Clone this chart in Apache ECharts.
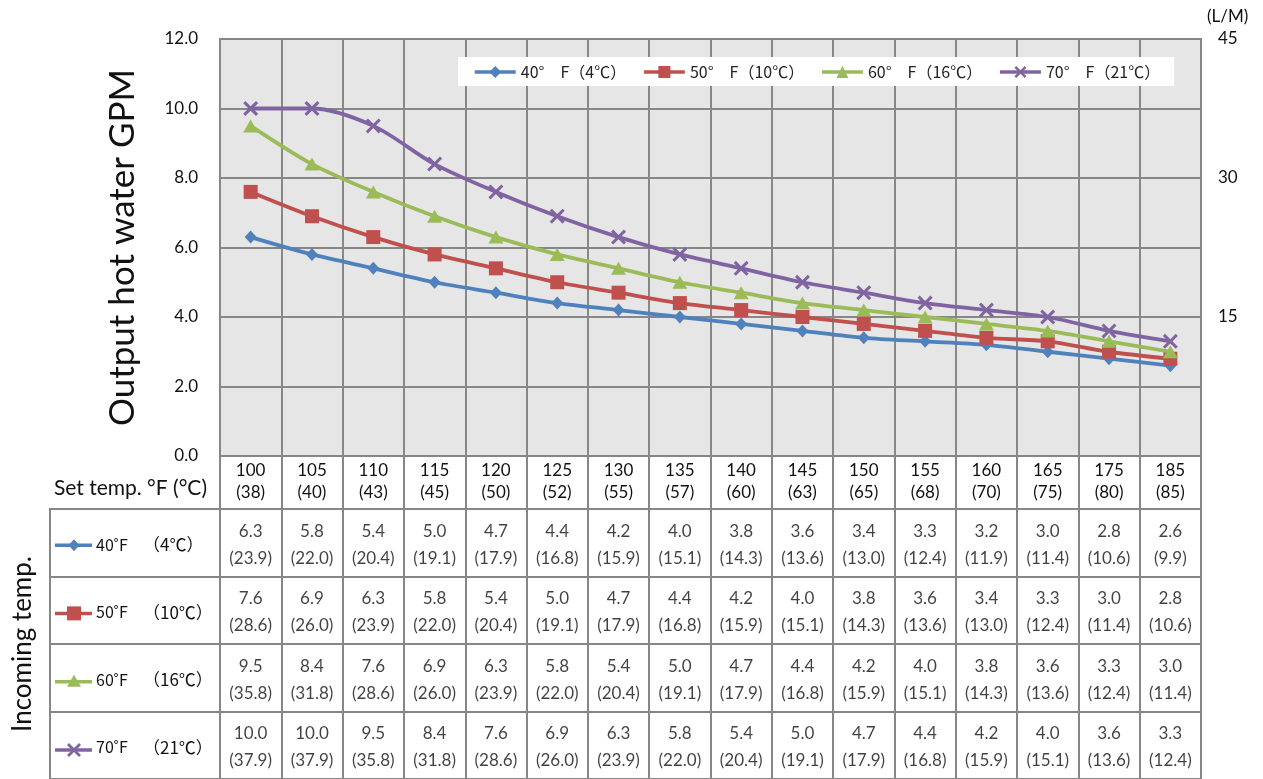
<!DOCTYPE html>
<html>
<head>
<meta charset="utf-8">
<script src="https://cdn.jsdelivr.net/npm/echarts@6/dist/echarts.min.js"></script>
<style>
  html, body { margin: 0; padding: 0; background: #fff; }
  #chart { width: 1263px; height: 779px; }
</style>
</head>
<body>
<div id="chart"></div>
<script>
// set temperatures (°F / °C)
var setTempF = ['100', '105', '110', '115', '120', '125', '130', '135', '140', '145', '150', '155', '160', '165', '175', '185'];
var setTempC = ['38', '40', '43', '45', '50', '52', '55', '57', '60', '63', '65', '68', '70', '75', '80', '85'];

// incoming temperatures
var seriesNames = ['40°　F（4℃）', '50°　F（10℃）', '60°　F（16℃）', '70°　F（21℃）'];
var rowF = ['40˚F', '50˚F', '60˚F', '70˚F'];
var rowC = ['（4℃）', '（10℃）', '（16℃）', '（21℃）'];

// output GPM
var gpm40 = [6.3, 5.8, 5.4, 5.0, 4.7, 4.4, 4.2, 4.0, 3.8, 3.6, 3.4, 3.3, 3.2, 3.0, 2.8, 2.6];
var gpm50 = [7.6, 6.9, 6.3, 5.8, 5.4, 5.0, 4.7, 4.4, 4.2, 4.0, 3.8, 3.6, 3.4, 3.3, 3.0, 2.8];
var gpm60 = [9.5, 8.4, 7.6, 6.9, 6.3, 5.8, 5.4, 5.0, 4.7, 4.4, 4.2, 4.0, 3.8, 3.6, 3.3, 3.0];
var gpm70 = [10.0, 10.0, 9.5, 8.4, 7.6, 6.9, 6.3, 5.8, 5.4, 5.0, 4.7, 4.4, 4.2, 4.0, 3.6, 3.3];

// output L/M
var lpm40 = [23.9, 22.0, 20.4, 19.1, 17.9, 16.8, 15.9, 15.1, 14.3, 13.6, 13.0, 12.4, 11.9, 11.4, 10.6, 9.9];
var lpm50 = [28.6, 26.0, 23.9, 22.0, 20.4, 19.1, 17.9, 16.8, 15.9, 15.1, 14.3, 13.6, 13.0, 12.4, 11.4, 10.6];
var lpm60 = [35.8, 31.8, 28.6, 26.0, 23.9, 22.0, 20.4, 19.1, 17.9, 16.8, 15.9, 15.1, 14.3, 13.6, 12.4, 11.4];
var lpm70 = [37.9, 37.9, 35.8, 31.8, 28.6, 26.0, 23.9, 22.0, 20.4, 19.1, 17.9, 16.8, 15.9, 15.1, 13.6, 12.4];

var gpmRows = [gpm40, gpm50, gpm60, gpm70];
var lpmRows = [lpm40, lpm50, lpm60, lpm70];

var colors = ['#4F81BD', '#C0504D', '#9BBB59', '#8064A2'];
var crossPath = 'path://M0,2L2,0L7,5L12,0L14,2L9,7L14,12L12,14L7,9L2,14L0,12L5,7Z';
var symbols = ['diamond', 'rect', 'triangle', crossPath];
var symbolSizes = [[12, 13], 14, [15, 13], 15];

var gridColor = '#878787';
var fontMain = 'Lato, "Noto Sans", sans-serif';
var fontCjk = '"Noto Sans CJK JP", sans-serif';

// table layout
var tLeft = 220, tWidth = 981, headTop = 456, bodyTop = 509, bodyH = 273, rowHeadLeft = 50;
var rowH = bodyH / 4;

var chart = echarts.init(document.getElementById('chart'));

// scatter points carrying the table cells
var cellData = [];
gpmRows.forEach(function (row, r) {
    row.forEach(function (v, i) {
        cellData.push([i, r, v, lpmRows[r][i]]);
    });
});

// little legend-like markers in the row headers
function rowY(r) { return bodyTop + rowH * (r + 0.5) + 2; }
var markers = [];
for (var r = 0; r < 4; r++) {
    markers.push({
        type: 'line',
        shape: { x1: 55, y1: rowY(r), x2: 92, y2: rowY(r) },
        style: { stroke: colors[r], lineWidth: 3.5 },
        z: 20
    });
}
markers.push({ type: 'polygon', shape: { points: [[74, -6], [79.5, 0], [74, 6], [68.5, 0]] }, y: rowY(0), style: { fill: colors[0] }, z: 21 });
markers.push({ type: 'rect', shape: { x: 67, y: -7, width: 14, height: 14 }, y: rowY(1), style: { fill: colors[1] }, z: 21 });
markers.push({ type: 'polygon', shape: { points: [[74, -7], [81, 5], [67, 5]] }, y: rowY(2), style: { fill: colors[2] }, z: 21 });
markers.push({
    type: 'polygon',
    shape: { points: [[67, -5], [69, -7], [74, -2], [79, -7], [81, -5], [76, 0], [81, 5], [79, 7], [74, 2], [69, 7], [67, 5], [72, 0]] },
    y: rowY(3), style: { fill: colors[3] }, z: 21
});
// header of the set-temperature row
markers.push({
    type: 'text',
    x: tLeft - 13,
    y: (headTop + bodyTop) / 2 + 6,
    style: { text: 'Set temp. °F (°C)', font: '21px ' + fontMain, fill: '#111', align: 'right', verticalAlign: 'middle' },
    z: 20
});

var lineSeries = seriesNames.map(function (name, k) {
    return {
        name: name,
        type: 'line',
        xAxisIndex: 0,
        yAxisIndex: 0,
        data: gpmRows[k],
        smooth: 0.3,
        symbol: symbols[k],
        symbolSize: symbolSizes[k],
        showAllSymbol: true,
        lineStyle: { color: colors[k], width: 3.8 },
        itemStyle: { color: colors[k] },
        emphasis: { disabled: true },
        z: 3 + k
    };
});

var option = {
    animation: false,
    color: colors,
    textStyle: { fontFamily: fontMain },
    legend: {
        data: seriesNames,
        left: 458,
        top: 57,
        padding: [7, 14, 6, 15],
        backgroundColor: '#fff',
        itemWidth: 41,
        itemHeight: 15,
        itemGap: 16,
        lineStyle: { width: 3.5 },
        textStyle: { fontFamily: fontCjk, fontSize: 16, color: '#222' }
    },
    grid: [
        { left: tLeft, top: 39, width: tWidth, height: 417, show: true, backgroundColor: '#E6E6E6', borderColor: gridColor, borderWidth: 2 },
        { left: tLeft, top: headTop, width: tWidth, height: bodyTop - headTop, show: true, backgroundColor: '#fff', borderColor: gridColor, borderWidth: 2 },
        { left: tLeft, top: bodyTop, width: tWidth, height: bodyH, show: true, backgroundColor: '#fff', borderColor: gridColor, borderWidth: 2 },
        { left: rowHeadLeft, top: bodyTop, width: tLeft - rowHeadLeft, height: bodyH, show: true, backgroundColor: '#fff', borderColor: gridColor, borderWidth: 2 }
    ],
    xAxis: [
        {
            type: 'category', gridIndex: 0, data: setTempF, boundaryGap: true,
            axisLine: { show: false }, axisTick: { show: false },
            splitLine: { show: true, lineStyle: { color: gridColor, width: 2 } },
            axisLabel: {
                interval: 0, margin: 4, lineHeight: 22, fontSize: 17, color: '#111',
                formatter: function (v, i) { return v + '\n(' + setTempC[i] + ')'; }
            }
        },
        {
            type: 'category', gridIndex: 1, data: setTempF,
            axisLine: { show: false }, axisTick: { show: false }, axisLabel: { show: false },
            splitLine: { show: true, lineStyle: { color: gridColor, width: 2 } }
        },
        {
            type: 'category', gridIndex: 2, data: setTempF,
            axisLine: { show: false }, axisTick: { show: false }, axisLabel: { show: false },
            splitLine: { show: true, lineStyle: { color: gridColor, width: 2 } }
        },
        { type: 'value', gridIndex: 3, show: false }
    ],
    yAxis: [
        {
            type: 'value', gridIndex: 0, min: 0, max: 12, interval: 2,
            name: 'Output hot water GPM', nameLocation: 'middle', nameGap: 80,
            nameTextStyle: { fontSize: 35, color: '#111', fontFamily: fontMain },
            axisLine: { show: false }, axisTick: { show: false },
            splitLine: { show: true, lineStyle: { color: gridColor, width: 2 } },
            axisLabel: { margin: 22, fontSize: 17, color: '#111', formatter: function (v) { return v.toFixed(1); } }
        },
        {
            type: 'value', gridIndex: 0, min: 0, max: 45, interval: 15, position: 'right',
            name: '(L/M)', nameLocation: 'end', nameGap: 14,
            nameTextStyle: { fontSize: 17, color: '#111', align: 'left', padding: [0, 0, 0, 6] },
            axisLine: { show: false }, axisTick: { show: false }, splitLine: { show: false },
            axisLabel: { margin: 17, fontSize: 17, color: '#111', formatter: function (v) { return v === 0 ? '' : String(v); } }
        },
        {
            type: 'category', gridIndex: 1, data: ['set'],
            axisLine: { show: false }, axisTick: { show: false }, splitLine: { show: false },
            axisLabel: { show: false }
        },
        {
            type: 'category', gridIndex: 2, data: rowF, inverse: true,
            axisLine: { show: false }, axisTick: { show: false }, axisLabel: { show: false },
            splitLine: { show: true, lineStyle: { color: gridColor, width: 2 } }
        },
        {
            type: 'category', gridIndex: 3, data: rowF, inverse: true,
            name: 'Incoming temp.', nameLocation: 'middle', nameGap: 14,
            nameTextStyle: { fontSize: 26, color: '#111', fontFamily: fontMain },
            axisLine: { show: false }, axisTick: { show: false },
            splitLine: { show: true, lineStyle: { color: gridColor, width: 2 } },
            axisLabel: {
                inside: true, margin: 46, color: '#111', fontFamily: fontCjk, fontSize: 16,
                formatter: function (v, i) { return '{a|' + v + '}{b|' + rowC[i] + '}'; },
                rich: {
                    a: { fontFamily: fontCjk, fontSize: 16, width: 47, color: '#111', padding: [4, 0, 0, 0] },
                    b: { fontFamily: fontCjk, fontSize: 17, color: '#111', padding: [4, 0, 0, 0] }
                }
            }
        }
    ],
    series: lineSeries.concat([{
        name: 'table',
        type: 'scatter',
        xAxisIndex: 2,
        yAxisIndex: 3,
        data: cellData,
        symbolSize: 1,
        itemStyle: { color: 'rgba(0,0,0,0)' },
        silent: true,
        label: {
            show: true, position: 'inside', offset: [0, 2],
            fontSize: 17, lineHeight: 27, color: '#111', fontFamily: fontMain,
            formatter: function (p) { return p.data[2].toFixed(1) + '\n(' + p.data[3].toFixed(1) + ')'; }
        }
    }]),
    graphic: markers
};

chart.setOption(option);
</script>
</body>
</html>
